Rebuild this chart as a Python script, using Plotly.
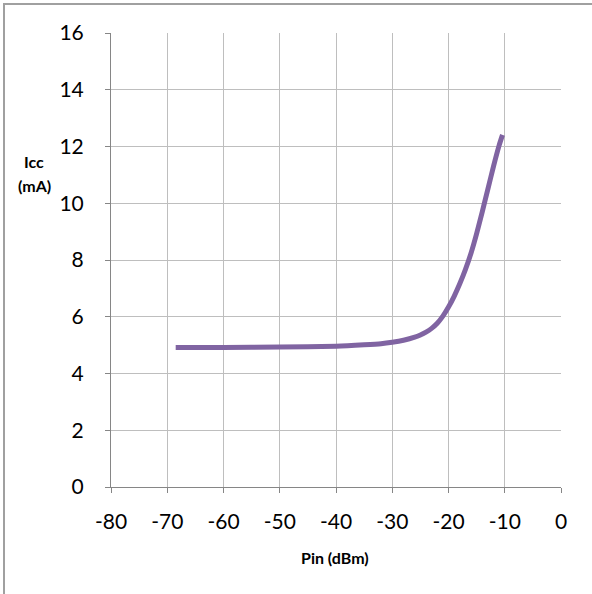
import plotly.graph_objects as go

pin_dbm = [-68.5, -60, -50, -40, -35, -32, -30, -28, -26, -25, -24, -23, -22, -21, -20,
           -19, -18, -17, -16, -15, -14, -13, -12, -11, -10.4]
icc_ma = [4.92, 4.92, 4.93, 4.96, 5.01, 5.05, 5.1, 5.17, 5.28, 5.36, 5.46, 5.59, 5.77, 6.02, 6.34,
          6.72, 7.16, 7.66, 8.24, 8.93, 9.7, 10.5, 11.3, 12.04, 12.41]

x_ticks = [-80, -70, -60, -50, -40, -30, -20, -10, 0]
y_ticks = [0, 2, 4, 6, 8, 10, 12, 14, 16]

FONT = "Lato, Carlito, Calibri, sans-serif"

fig = go.Figure()
fig.add_trace(go.Scatter(
    x=pin_dbm, y=icc_ma, mode="lines",
    line=dict(color="#8064A2", width=5, shape="spline", smoothing=0.5),
    hoverinfo="skip", showlegend=False,
))

L, R, T, B = 111, 31, 33, 107
W, H = 592, 594
pw, ph = W - L - R, H - T - B

def px(xp):
    return (xp - L) / pw

def py(yp):
    return (T + ph - yp) / ph

fig.update_layout(
    width=W, height=H,
    margin=dict(l=L, r=R, t=T, b=B),
    paper_bgcolor="white", plot_bgcolor="white",
    font=dict(family=FONT, color="black"),
    xaxis=dict(
        range=[-80, 0], tickvals=x_ticks, ticktext=[str(v) for v in x_ticks],
        showgrid=True, gridcolor="#BEBEBE", gridwidth=1,
        zeroline=False, showline=True, linecolor="#868686", linewidth=1,
        ticks="outside", ticklen=5, tickcolor="#868686",
        tickfont=dict(size=21, family=FONT),
        ticklabelstandoff=11,
    ),
    yaxis=dict(
        range=[0, 16], tickvals=y_ticks, ticktext=[str(v) for v in y_ticks],
        showgrid=True, gridcolor="#BEBEBE", gridwidth=1,
        zeroline=False, showline=True, linecolor="#868686", linewidth=1,
        ticks="outside", ticklen=5, tickcolor="#868686",
        tickfont=dict(size=21, family=FONT),
        ticklabelstandoff=17,
    ),
    annotations=[
        dict(text="<b>Icc</b>", xref="paper", yref="paper",
             x=px(34), y=py(161), xanchor="center", yanchor="middle",
             showarrow=False, font=dict(size=16, family=FONT)),
        dict(text="<b>(mA)</b>", xref="paper", yref="paper",
             x=px(34), y=py(186), xanchor="center", yanchor="middle",
             showarrow=False, font=dict(size=16, family=FONT)),
        dict(text="<b>Pin (dBm)</b>", xref="paper", yref="paper",
             x=px(335), y=py(557), xanchor="center", yanchor="middle",
             showarrow=False, font=dict(size=16, family=FONT)),
    ],
    shapes=[
        dict(type="line", xref="paper", yref="paper",
             x0=px(4), x1=px(4), y0=py(3), y1=py(600),
             line=dict(color="#A0A0A0", width=2)),
        dict(type="line", xref="paper", yref="paper",
             x0=px(4), x1=px(600), y0=py(4), y1=py(4),
             line=dict(color="#A0A0A0", width=2)),
    ],
)

fig.write_html("out.html")
